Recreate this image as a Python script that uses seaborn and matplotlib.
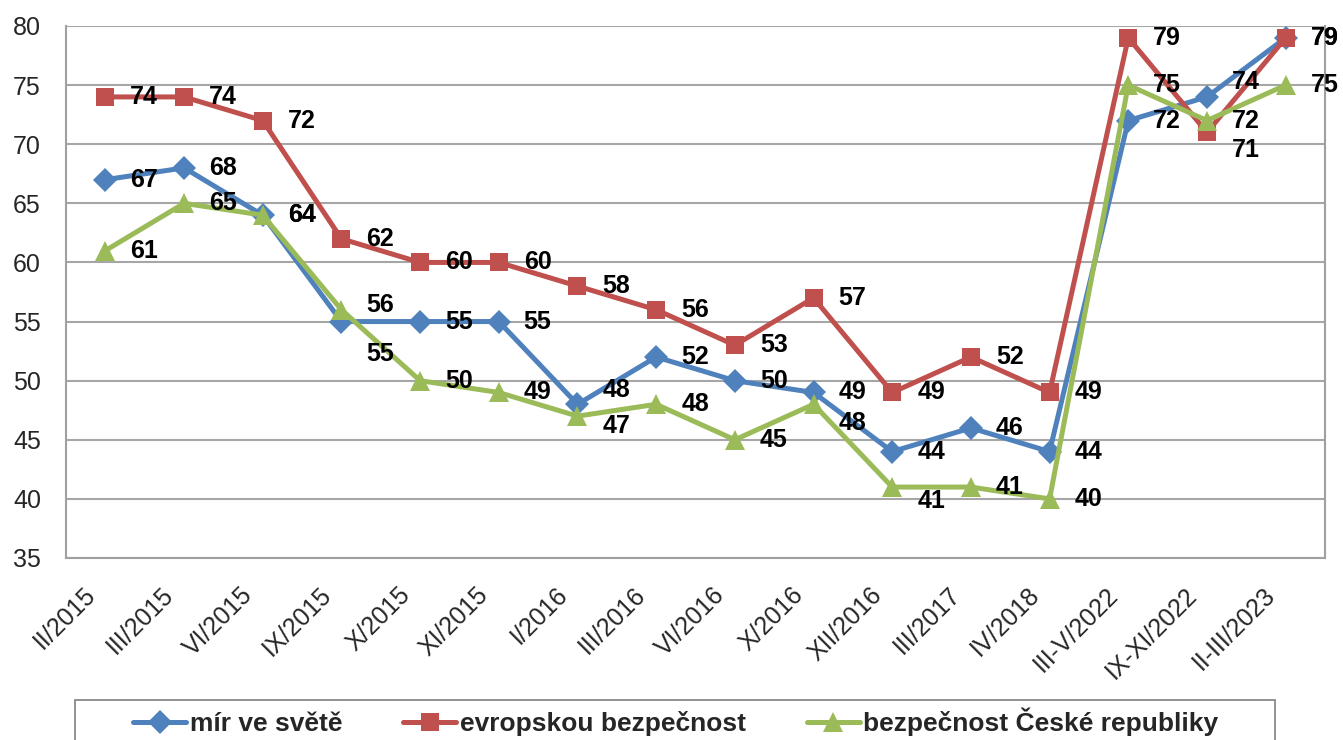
import pandas as pd
import seaborn as sns
import matplotlib.pyplot as plt
from matplotlib.patches import Rectangle
from matplotlib.transforms import ScaledTranslation

# období průzkumu
obdobi = ["II/2015", "III/2015", "VI/2015", "IX/2015", "X/2015", "XI/2015",
          "I/2016", "III/2016", "VI/2016", "X/2016", "XII/2016", "III/2017",
          "IV/2018", "III-V/2022", "IX-XI/2022", "II-III/2023"]
mir = [67, 68, 64, 55, 55, 55, 48, 52, 50, 49, 44, 46, 44, 72, 74, 79]
evropa = [74, 74, 72, 62, 60, 60, 58, 56, 53, 57, 49, 52, 49, 79, 71, 79]
cr = [61, 65, 64, 56, 50, 49, 47, 48, 45, 48, 41, 41, 40, 75, 72, 75]
nazvy = ["mír ve světě", "evropskou bezpečnost", "bezpečnost České republiky"]

df = pd.DataFrame({"obdobi": obdobi * 3,
                   "hodnota": mir + evropa + cr,
                   "serie": [nazvy[0]] * 16 + [nazvy[1]] * 16 + [nazvy[2]] * 16})

barvy = {nazvy[0]: "#4F81BD", nazvy[1]: "#C0504D", nazvy[2]: "#9BBB59"}
znacky = {nazvy[0]: "D", nazvy[1]: "s", nazvy[2]: "^"}
# posuny popisků (px nahoru) kde se v originále překrývají
posun = {nazvy[0]: {3: -32, 6: 14, 14: 15},
         nazvy[1]: {14: -18},
         nazvy[2]: {3: 5, 6: -10, 9: -19, 10: -14}}

sns.set_style("white")
plt.rcParams['font.family'] = ['Liberation Sans', 'DejaVu Sans']

fig = plt.figure(figsize=(13.43, 7.40), dpi=100)
ax = fig.add_axes([66 / 1343, 1 - 558 / 740, (1325 - 66) / 1343, (558 - 26) / 740])

sns.lineplot(data=df, x="obdobi", y="hodnota", hue="serie", style="serie",
             palette=barvy, markers=znacky, dashes=False, sort=False,
             linewidth=3.6, markersize=13, markeredgewidth=0, ax=ax, legend=True)
velikost = {"D": 12, "s": 13, "^": 15}
for l in ax.lines:
    if l.get_marker() in velikost:
        l.set_markersize(velikost[l.get_marker()])

for s, vals in zip(nazvy, [mir, evropa, cr]):
    for i, v in enumerate(vals):
        ax.annotate(str(v), (i, v), xytext=(25, posun[s].get(i, 0)),
                    textcoords="offset pixels", ha="left", va="center",
                    fontsize=18, fontweight="bold", color="black",
                    annotation_clip=False)

ax.set_xlim(-0.5, len(obdobi) - 0.5)
ax.set_ylim(35, 80)
ax.set_yticks(range(35, 81, 5))
ax.set_xticks(range(len(obdobi)))
ax.set_xticklabels(obdobi, rotation=45, ha="right", va="center",
                   rotation_mode="anchor", fontsize=18)
ax.set_xticks([x - 0.5 for x in range(len(obdobi) + 1)], minor=True)
ax.tick_params(axis="x", which="major", length=0, pad=24)
ax.tick_params(axis="x", which="minor", length=6, width=1.5, color="#A0A0A0")
ax.tick_params(axis="y", length=6, width=1.5, color="#A0A0A0", labelsize=18, pad=12)
off = ScaledTranslation(-14 / 100, 0, fig.dpi_scale_trans)
for t in ax.get_xticklabels():
    t.set_transform(t.get_transform() + off)
ax.set_xlabel("")
ax.set_ylabel("")
ax.grid(axis="y", color="#A6A6A6", linewidth=1.5)
ax.set_axisbelow(True)
for sp in ax.spines.values():
    sp.set_color("#A0A0A0")
    sp.set_linewidth(1.5)
ax.spines["top"].set_visible(False)

h, lab = ax.get_legend_handles_labels()
ax.get_legend().remove()
# rámeček legendy (spodek je v originále useknutý)
fig.patches.append(Rectangle((75 / 1343, -0.05), 1200 / 1343, 0.05 + 40 / 740,
                             transform=fig.transFigure, fill=False,
                             edgecolor="#808080", linewidth=1.2))
fig.legend(h, lab, loc="center", ncol=3, bbox_to_anchor=(676 / 1343, 1 - 722 / 740),
           bbox_transform=fig.transFigure,
           prop={"size": 19, "weight": "bold"}, handlelength=2.0,
           handletextpad=0.15, columnspacing=2.3, borderpad=0, frameon=False)

fig.savefig("out.png", dpi=100)
